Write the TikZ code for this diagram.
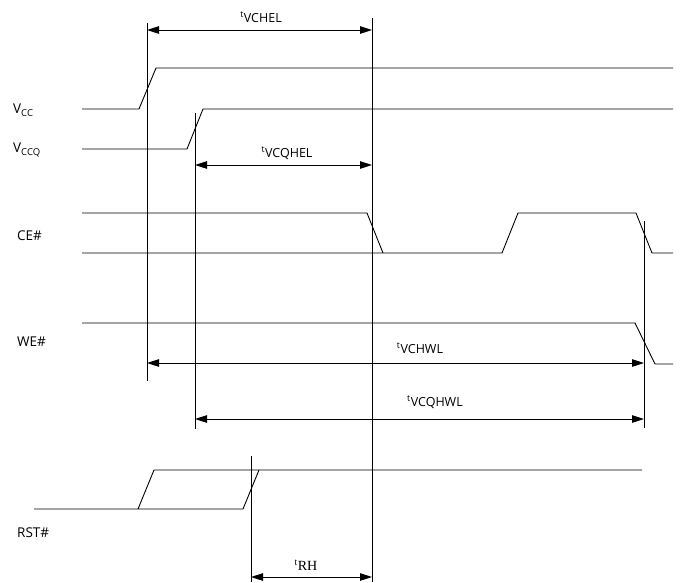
\documentclass[tikz,border=0pt]{standalone}
\usepackage{fontspec}
\setmainfont{Open Sans}
\newfontfamily\serifrh{Liberation Serif}
\usetikzlibrary{arrows.meta}
\begin{document}
\begin{tikzpicture}[x=1pt,y=-1pt,
  sig/.style={line width=0.9pt,line join=round},
  vline/.style={line width=0.9pt},
  dim/.style={line width=0.9pt,{Triangle[length=12pt,width=7.5pt]}-{Triangle[length=12pt,width=7.5pt]}},
  siglabel/.style={anchor=west,inner sep=0pt,font=\fontsize{13.5}{15}\selectfont},
  tlabel/.style={inner sep=0pt,font=\fontsize{12.5}{14}\selectfont}]
\useasboundingbox (0,0) rectangle (682,582);
% signal labels
\node[siglabel] (lvcc) at (13,110) {V\raisebox{-0.35ex}{\fontsize{9.5}{10}\selectfont CC}};
\node[siglabel] (lvccq) at (13,150) {V\raisebox{-0.35ex}{\fontsize{9.5}{10}\selectfont CCQ}};
\node[siglabel] (lce) at (17,236) {CE\#};
\node[siglabel] (lwe) at (17,342) {WE\#};
\node[siglabel] (lrst) at (17,533) {RST\#};
% waveforms
\draw[sig] (82,109) -- (139,109) -- (156,68) -- (673,68);
\draw[sig] (82,149) -- (187,149) -- (203,109) -- (673,109);
\draw[sig] (82,213) -- (367,213) -- (383,253);
\draw[sig] (82,253) -- (502,253) -- (518,213) -- (636,213) -- (652,253) -- (673,253);
\draw[sig] (82,323) -- (635,323) -- (655,364) -- (673,364);
\draw[sig] (34,509) -- (138,509) -- (154,470) -- (642,470);
\draw[sig] (138,509) -- (243,509) -- (259,470);
% vertical reference lines
\coordinate (v1t) at (147,23);  \coordinate (v1b) at (147,381);
\coordinate (v2t) at (195,113); \coordinate (v2b) at (195,429);
\coordinate (v3t) at (372,18);  \coordinate (v3b) at (372,582);
\coordinate (v4t) at (644,221); \coordinate (v4b) at (644,428);
\coordinate (v5t) at (251,456); \coordinate (v5b) at (251,582);
\draw[vline] (v1t) -- (v1b);
\draw[vline] (v2t) -- (v2b);
\draw[vline] (v3t) -- (v3b);
\draw[vline] (v4t) -- (v4b);
\draw[vline] (v5t) -- (v5b);
% dimension arrows
\coordinate (a1l) at (147,30);  \coordinate (a1r) at (372,30);
\coordinate (a2l) at (195,165); \coordinate (a2r) at (372,165);
\coordinate (a3l) at (147,363); \coordinate (a3r) at (644,363);
\coordinate (a4l) at (195,419); \coordinate (a4r) at (644,419);
\coordinate (a5l) at (251,577); \coordinate (a5r) at (372,577);
\draw[dim] (a1l) -- (a1r);
\draw[dim] (a2l) -- (a2r);
\draw[dim] (a3l) -- (a3r);
\draw[dim] (a4l) -- (a4r);
\draw[dim] (a5l) -- (a5r);
% timing labels
\node[tlabel] (t1) at (261,17) {\textsuperscript{t}VCHEL};
\node[tlabel] (t2) at (287,153) {\textsuperscript{t}VCQHEL};
\node[tlabel] (t3) at (420,348) {\textsuperscript{t}VCHWL};
\node[tlabel] (t4) at (435,402) {\textsuperscript{t}VCQHWL};
\node[tlabel,font=\serifrh\fontsize{14}{16}\selectfont] (t5) at (306,565) {\textsuperscript{t}RH};
\end{tikzpicture}
\end{document}
